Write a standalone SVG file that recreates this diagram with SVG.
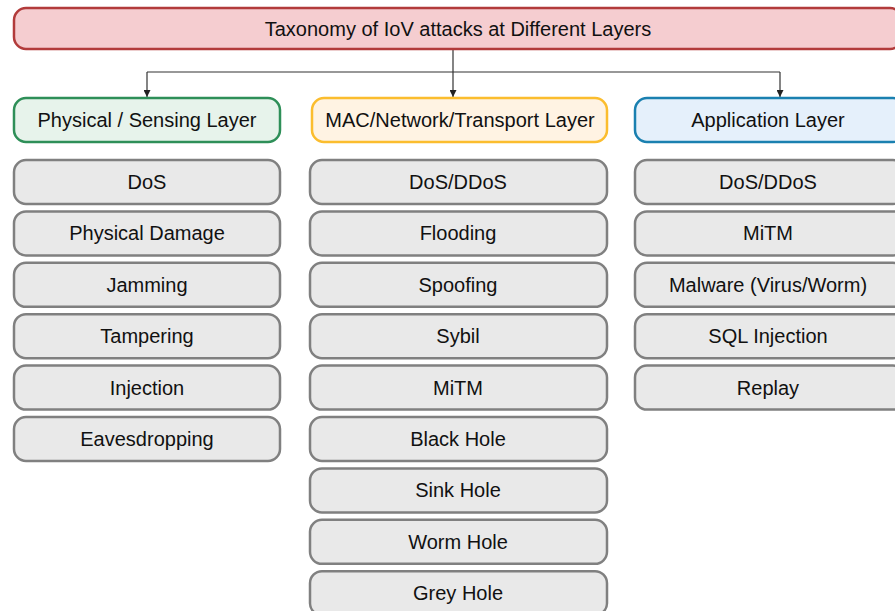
<svg xmlns="http://www.w3.org/2000/svg" width="895" height="611" viewBox="0 0 895 611">
<defs>
<style>
text{font-family:"Liberation Sans",Arial,sans-serif;font-size:20px;fill:#111;text-anchor:middle}
.item{fill:#e9e9e9;stroke:#808080;stroke-width:2.5}
.conn{fill:none;stroke:#333;stroke-width:1.2}
</style>
<marker id="ah" viewBox="0 0 10 10" refX="10" refY="5" markerWidth="7" markerHeight="7" orient="auto" markerUnits="userSpaceOnUse">
<path d="M0,0 L10,5 L0,10 z" fill="#222"/>
</marker>
</defs>
<rect width="895" height="611" fill="#fff"/>
<g id="connectors">
<path class="conn" d="M453,50 V97" marker-end="url(#ah)"/>
<path class="conn" d="M147,72 H780"/>
<path class="conn" d="M147,72 V97" marker-end="url(#ah)"/>
<path class="conn" d="M780,72 V97" marker-end="url(#ah)"/>
</g>
<g id="title"><rect x="14" y="8" width="888" height="41" rx="12" fill="#f5cdd0" stroke="#b23b3b" stroke-width="2.5"/><text x="458" y="35.5">Taxonomy of IoV attacks at Different Layers</text></g>
<g id="layer-physical"><rect x="14" y="98" width="266" height="44" rx="12" fill="#e7f3eb" stroke="#2e8f58" stroke-width="2.5"/><text x="147" y="127">Physical / Sensing Layer</text></g>
<g id="layer-mac"><rect x="312" y="98" width="295" height="44" rx="12" fill="#fff3e3" stroke="#fbbd2e" stroke-width="2.5"/><text x="460" y="127">MAC/Network/Transport Layer</text></g>
<g id="layer-app"><rect x="635" y="98" width="270" height="44" rx="12" fill="#e5f0fb" stroke="#1a80b0" stroke-width="2.5"/><text x="768" y="127">Application Layer</text></g>

<g id="p1"><rect class="item" x="14" y="160" width="266" height="44" rx="12"/><text x="147" y="189">DoS</text></g>
<g id="p2"><rect class="item" x="14" y="211.4" width="266" height="44" rx="12"/><text x="147" y="240.4">Physical Damage</text></g>
<g id="p3"><rect class="item" x="14" y="262.8" width="266" height="44" rx="12"/><text x="147" y="291.8">Jamming</text></g>
<g id="p4"><rect class="item" x="14" y="314.2" width="266" height="44" rx="12"/><text x="147" y="343.2">Tampering</text></g>
<g id="p5"><rect class="item" x="14" y="365.6" width="266" height="44" rx="12"/><text x="147" y="394.6">Injection</text></g>
<g id="p6"><rect class="item" x="14" y="417" width="266" height="44" rx="12"/><text x="147" y="446">Eavesdropping</text></g>

<g id="m1"><rect class="item" x="310" y="160" width="297" height="44" rx="12"/><text x="458" y="189">DoS/DDoS</text></g>
<g id="m2"><rect class="item" x="310" y="211.4" width="297" height="44" rx="12"/><text x="458" y="240.4">Flooding</text></g>
<g id="m3"><rect class="item" x="310" y="262.8" width="297" height="44" rx="12"/><text x="458" y="291.8">Spoofing</text></g>
<g id="m4"><rect class="item" x="310" y="314.2" width="297" height="44" rx="12"/><text x="458" y="343.2">Sybil</text></g>
<g id="m5"><rect class="item" x="310" y="365.6" width="297" height="44" rx="12"/><text x="458" y="394.6">MiTM</text></g>
<g id="m6"><rect class="item" x="310" y="417" width="297" height="44" rx="12"/><text x="458" y="446">Black Hole</text></g>
<g id="m7"><rect class="item" x="310" y="468.4" width="297" height="44" rx="12"/><text x="458" y="497.4">Sink Hole</text></g>
<g id="m8"><rect class="item" x="310" y="519.8" width="297" height="44" rx="12"/><text x="458" y="548.8">Worm Hole</text></g>
<g id="m9"><rect class="item" x="310" y="571.2" width="297" height="44" rx="12"/><text x="458" y="600.2">Grey Hole</text></g>

<g id="a1"><rect class="item" x="635" y="160" width="270" height="44" rx="12"/><text x="768" y="189">DoS/DDoS</text></g>
<g id="a2"><rect class="item" x="635" y="211.4" width="270" height="44" rx="12"/><text x="768" y="240.4">MiTM</text></g>
<g id="a3"><rect class="item" x="635" y="262.8" width="270" height="44" rx="12"/><text x="768" y="291.8">Malware (Virus/Worm)</text></g>
<g id="a4"><rect class="item" x="635" y="314.2" width="270" height="44" rx="12"/><text x="768" y="343.2">SQL Injection</text></g>
<g id="a5"><rect class="item" x="635" y="365.6" width="270" height="44" rx="12"/><text x="768" y="394.6">Replay</text></g>
</svg>
